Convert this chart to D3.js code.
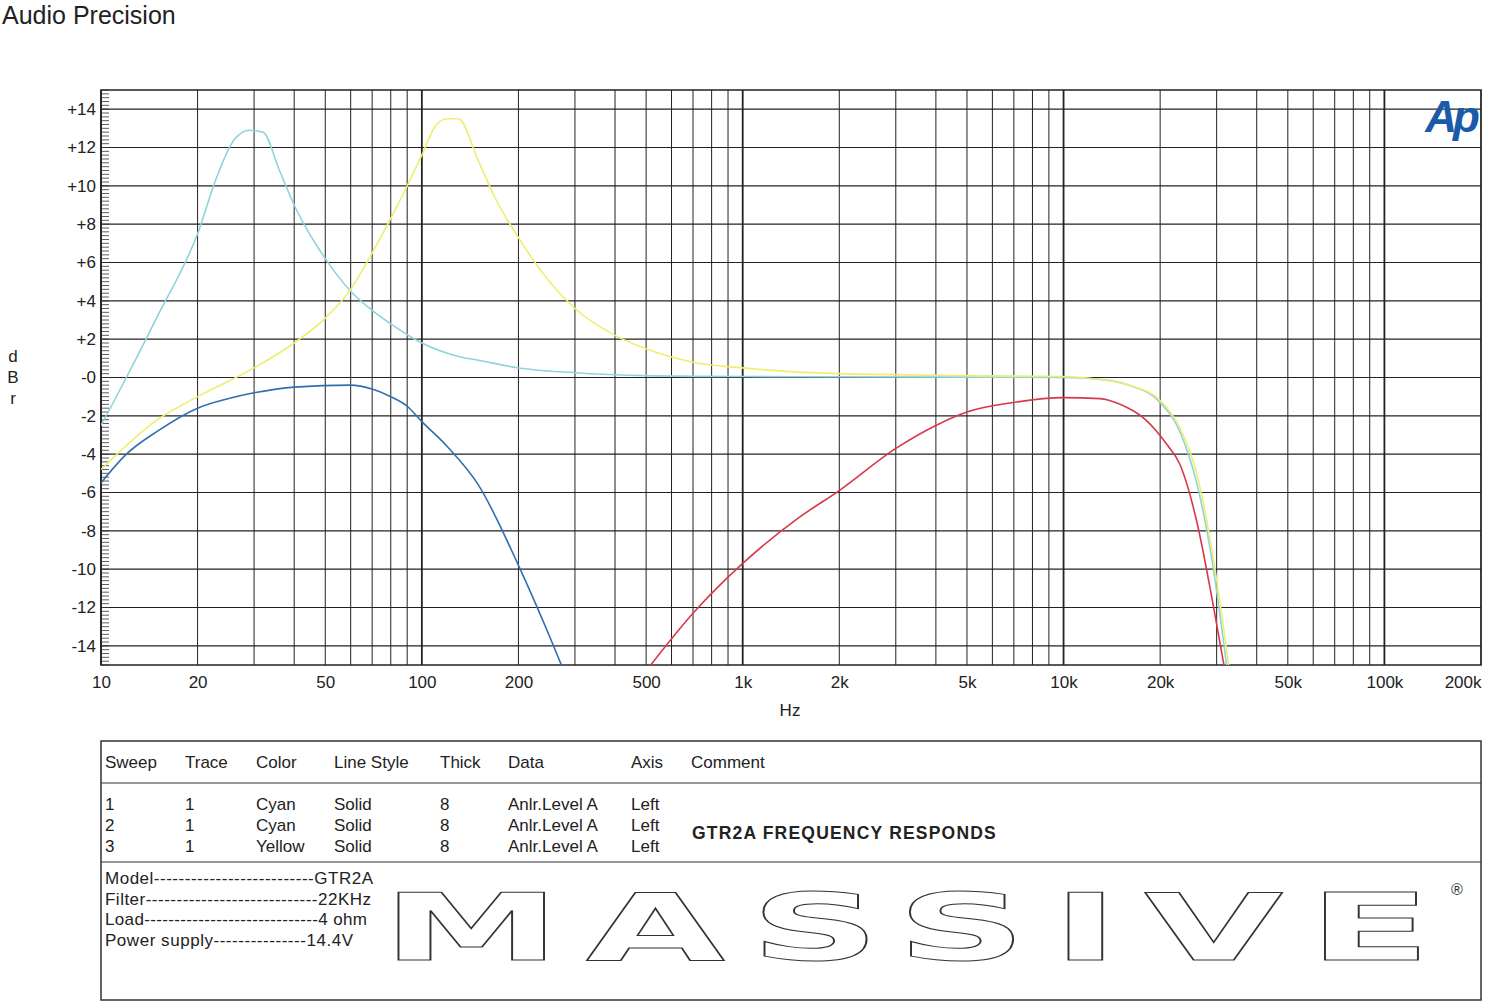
<!DOCTYPE html>
<html><head><meta charset="utf-8">
<script src="https://cdn.jsdelivr.net/npm/d3@7"></script>
<style>body{margin:0;background:#fff;font-family:Arial,"Liberation Sans",sans-serif}</style>
</head><body>
<svg id="c" width="1485" height="1004"></svg>
<script>
// frequency / level pairs
const cyanA = [[10,-2.5],[12,0],[15,3.2],[20,7.5],[23,10.5],[26,12.4],[29,12.9],[32,12.8],[36,10.8],[40,9],[45,7.4],[50,6.2],[60,4.5],[70,3.5],[80,2.8],[100,1.8],[130,1.1],[150,0.9],[200,0.5],[300,0.25],[500,0.1],[1000,0.05],[5000,0.02],[10000,0],[13000,-0.1],[16000,-0.4],[20000,-1.3],[23000,-2.8],[26000,-5.5],[29000,-9.5],[32500,-15.5]];
const blueA = [[10,-5.5],[12,-4],[15,-2.8],[20,-1.6],[25,-1.1],[30,-0.8],[40,-0.5],[60,-0.4],[70,-0.6],[80,-1],[90,-1.5],[100,-2.3],[120,-3.6],[150,-5.6],[200,-9.8],[250,-13.5],[280,-15.5]];
const yellowA = [[10,-4.8],[15,-2.2],[20,-1],[30,0.5],[40,1.8],[50,3.1],[60,4.6],[70,6.5],[80,8.3],[90,10],[100,11.6],[110,13.1],[120,13.5],[130,13.5],[150,11.3],[170,9.3],[200,7.3],[250,5],[300,3.6],[400,2.2],[500,1.5],[700,0.8],[1000,0.5],[2000,0.2],[5000,0.1],[10000,0.05],[13000,-0.1],[16000,-0.4],[20000,-1.2],[23000,-2.6],[26000,-5],[29000,-9],[33000,-15.5]];
const redA = [[490,-15.5],[700,-12.3],[1000,-9.7],[1500,-7.3],[2000,-5.9],[3000,-3.7],[4000,-2.5],[5000,-1.8],[7000,-1.3],[10000,-1.05],[13000,-1.1],[15000,-1.4],[18000,-2.2],[21000,-3.5],[23000,-4.5],[26000,-7.5],[29000,-11.5],[32000,-15.5]];
const yTicks = [14,12,10,8,6,4,2,0,-2,-4,-6,-8,-10,-12,-14];
const xTickVals = [10,20,50,100,200,500,1000,2000,5000,10000,20000,50000,100000,200000];
const xTickText = ['10','20','50','100','200','500','1k','2k','5k','10k','20k','50k','100k','200k'];
const legendHead = ['Sweep','Trace','Color','Line Style','Thick','Data','Axis','Comment'];
const legendRows = [['1','1','Cyan','Solid','8','Anlr.Level A','Left'],['2','1','Cyan','Solid','8','Anlr.Level A','Left'],['3','1','Yellow','Solid','8','Anlr.Level A','Left']];
const infoRows = ['Model--------------------------GTR2A','Filter----------------------------22KHz','Load-----------------------------4 ohm','Power supply---------------14.4V'];

const svg = d3.select('#c');
const L=101,R=1481,T=90,B=665;
const x = d3.scaleLog().domain([10,200000]).range([L,R]);
const y = d3.scaleLinear().domain([-15,15]).range([B,T]);

svg.append('text').attr('x',2).attr('y',24).attr('font-size',25).attr('fill','#222').text('Audio Precision');

// grid
const g = svg.append('g');
let minors=[];
for (let d=10; d<200000; d*=10) for (let k=1;k<10;k++){ const f=d*k; if(f<=200000) minors.push(f); }
g.selectAll('line.v').data(minors).join('line')
  .attr('x1',d=>x(d)).attr('x2',d=>x(d)).attr('y1',T).attr('y2',B)
  .attr('stroke','#222').attr('stroke-width',d=>Math.abs(Math.log10(d)%1)<1e-6?1.8:1);
g.selectAll('line.h').data(yTicks).join('line')
  .attr('x1',L).attr('x2',R).attr('y1',d=>y(d)).attr('y2',d=>y(d))
  .attr('stroke','#222').attr('stroke-width',1.2);
g.append('rect').attr('x',L).attr('y',T).attr('width',R-L).attr('height',B-T).attr('fill','none').attr('stroke','#222').attr('stroke-width',1.5);

// left axis with comb of minor ticks
const minorY = d3.range(-15,15.01,0.2);
g.selectAll('line.m').data(minorY).join('line')
  .attr('x1',L).attr('x2',L+8).attr('y1',d=>y(d)).attr('y2',d=>y(d)).attr('stroke','#333').attr('stroke-width',0.8);
svg.append('g').attr('transform',`translate(${L},0)`)
  .call(d3.axisLeft(y).tickValues(yTicks).tickSize(0).tickPadding(5).tickFormat(d=>d>0?'+'+d:(d===0?'-0':d)))
  .call(a=>a.select('.domain').remove())
  .selectAll('text').attr('font-size',17).attr('fill','#222').attr('font-family','Arial,Liberation Sans');
svg.append('g').attr('transform',`translate(0,${B})`)
  .call(d3.axisBottom(x).tickValues(xTickVals).tickSize(0).tickPadding(11).tickFormat((d,i)=>xTickText[i]))
  .call(a=>a.select('.domain').remove())
  .selectAll('text').attr('font-size',17).attr('fill','#222').attr('font-family','Arial,Liberation Sans')
  .attr('text-anchor',(d,i)=>i===xTickVals.length-1?'end':'middle');
svg.append('text').attr('x',790).attr('y',716).attr('text-anchor','middle').attr('font-size',17).attr('fill','#222').text('Hz');
['d','B','r'].forEach((c,i)=>svg.append('text').attr('x',13).attr('y',362+i*21).attr('text-anchor','middle').attr('font-size',17).attr('fill','#222').text(c));
svg.append('text').attr('x',1476).attr('y',132).attr('text-anchor','end').attr('font-size',44).attr('font-weight','bold').attr('font-style','italic').attr('fill','#1a5aa8').attr('letter-spacing',-4).text('Ap');

// curves
svg.append('clipPath').attr('id','pc').append('rect').attr('x',L).attr('y',T).attr('width',R-L).attr('height',B-T);
const line = d3.line().x(d=>x(d[0])).y(d=>y(d[1])).curve(d3.curveMonotoneX);
const curves=[[cyanA,'#8fd3dc'],[yellowA,'#eeee70'],[blueA,'#2f6fae'],[redA,'#d8384a']];
svg.append('g').attr('clip-path','url(#pc)').selectAll('path').data(curves).join('path')
  .attr('d',d=>line(d[0])).attr('fill','none').attr('stroke',d=>d[1]).attr('stroke-width',1.6);

// legend box
const lg = svg.append('g').attr('font-size',17).attr('fill','#222');
lg.append('rect').attr('x',L).attr('y',741).attr('width',R-L).attr('height',259).attr('fill','none').attr('stroke','#333').attr('stroke-width',1.5);
lg.append('line').attr('x1',L).attr('x2',R).attr('y1',783).attr('y2',783).attr('stroke','#333');
lg.append('line').attr('x1',L).attr('x2',R).attr('y1',862).attr('y2',862).attr('stroke','#333');
const cols=[105,185,256,334,440,508,631,691];
legendHead.forEach((h,i)=>lg.append('text').attr('x',cols[i]).attr('y',768).text(h));
legendRows.forEach((r,j)=>r.forEach((c,i)=>lg.append('text').attr('x',cols[i]).attr('y',810+j*21).text(c)));
lg.append('text').attr('x',692).attr('y',839).attr('font-weight','bold').attr('letter-spacing',1.2).attr('font-size',17.5).text('GTR2A FREQUENCY RESPONDS');
infoRows.forEach((t,i)=>lg.append('text').attr('x',105).attr('y',884+i*20.5).attr('textLength',[268,266,262,248][i]).text(t));
svg.append('text').attr('transform','translate(382,960) scale(1.95,1)').attr('font-size',92).attr('font-family','DejaVu Sans').attr('font-weight','bold')
  .attr('fill','none').attr('stroke','#333').attr('stroke-width',1).attr('textLength',538).text('MASSIVE');
svg.append('text').attr('x',1451).attr('y',895).attr('font-size',16).attr('fill','#333').text('®');
</script>
</body></html>
